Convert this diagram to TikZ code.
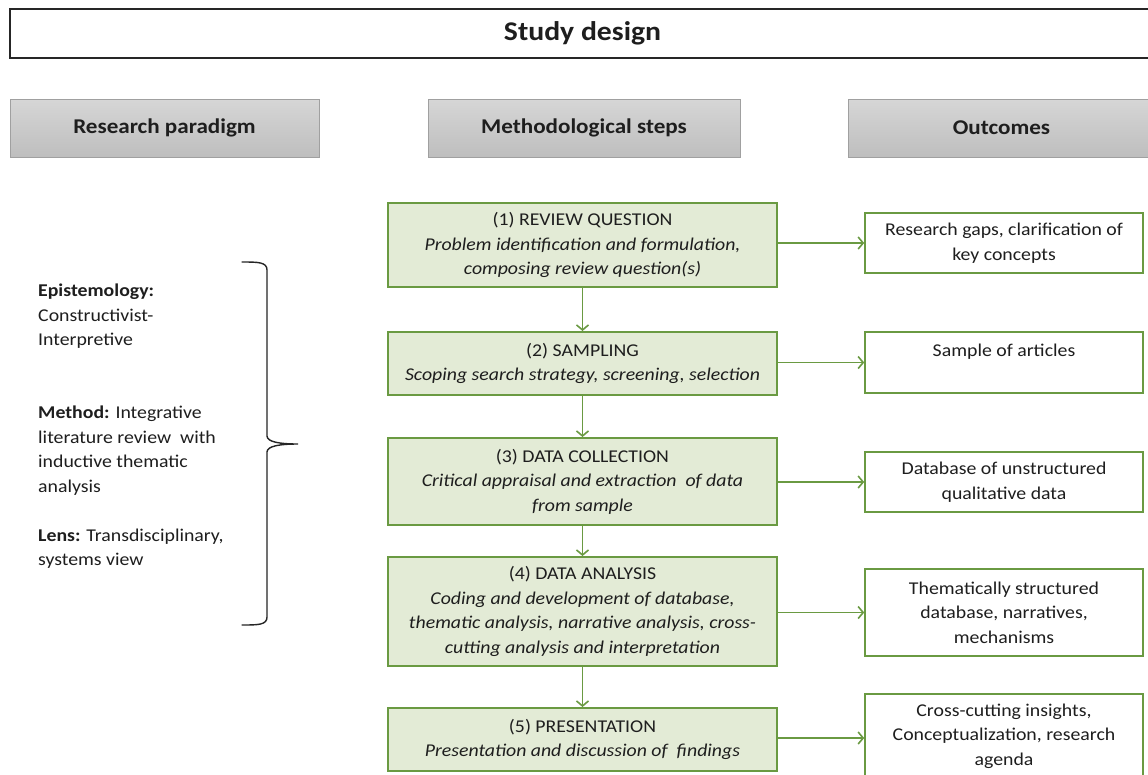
\documentclass[tikz,border=0pt]{standalone}
\usepackage{fontspec}
\setmainfont{Carlito}[FakeStretch=1.1]
\usetikzlibrary{arrows.meta}
\definecolor{gborder}{RGB}{106,154,66}
\definecolor{gfill}{RGB}{227,235,214}
\definecolor{htop}{RGB}{214,214,214}
\definecolor{hbot}{RGB}{190,190,190}
\definecolor{hline}{RGB}{160,160,160}
\definecolor{txt}{RGB}{30,30,30}
\tikzset{
  every node/.style={text=txt},
  bodyfont/.style={font=\fontsize{18}{24.5}\selectfont},
  titlebox/.style={draw=black!85, line width=1.5pt, fill=white, inner sep=0pt, font=\fontsize{27}{30}\selectfont\bfseries},
  headbox/.style={draw=hline, line width=0.8pt, top color=htop, bottom color=hbot, inner sep=0pt, minimum height=58pt, font=\fontsize{21}{24}\selectfont\bfseries},
  stepbox/.style={draw=gborder, line width=2pt, fill=gfill, inner sep=0pt, minimum width=389pt, align=center, bodyfont},
  outbox/.style={draw=gborder, line width=1.6pt, fill=white, inner sep=0pt, minimum width=278pt, align=center, bodyfont},
  flow/.style={draw=gborder, line width=1.6pt, -{Straight Barb[length=5pt,width=12pt,line width=1.6pt]}},
}
\begin{document}
\begin{tikzpicture}[x=1pt,y=-1pt]
\useasboundingbox (0,0) rectangle (1148,774);
\clip (0,0) rectangle (1148,774);
\fill[white] (0,0) rectangle (1148,774);

% title
\node[titlebox, minimum width=1145pt, minimum height=49pt] (title) at (582.5,33.5) {Study design};

% headers
\node[headbox, minimum width=309pt] (hrp) at (164.5,128) {Research paradigm};
\node[headbox, minimum width=312pt] (hms) at (584,128) {Methodological steps};
\node[headbox, minimum width=307pt] (hoc) at (1001.5,128) {Outcomes};

% steps
\node[stepbox, minimum height=84pt] (s1) at (582.5,245) {(1) REVIEW QUESTION\\ \textit{Problem identification and formulation,}\\ \textit{composing review question(s)}};
\node[stepbox, minimum height=63pt] (s2) at (582.5,363.5) {(2) SAMPLING\\ \textit{Scoping search strategy, screening, selection}};
\node[stepbox, minimum height=87pt] (s3) at (582.5,481.5) {(3) DATA COLLECTION\\ \textit{Critical appraisal and extraction\ \ of data}\\ \textit{from sample}};
\node[stepbox, minimum height=109pt] (s4) at (582.5,611.5) {(4) DATA ANALYSIS\\ \textit{Coding and development of database,}\\ \textit{thematic analysis, narrative analysis, cross-}\\ \textit{cutting analysis and interpretation}};
\node[stepbox, minimum height=63pt] (s5) at (582.5,739.5) {(5) PRESENTATION\\ \textit{Presentation and discussion of\ \ findings}};

% outcomes
\node[outbox, minimum height=60pt] (o1) at (1004,243) {Research gaps, clarification of\\ key concepts};
\node[outbox, minimum height=61pt] (o2) at (1004,362.5) {Sample of articles\\ \mbox{}};
\node[outbox, minimum height=60pt] (o3) at (1004,482) {Database of unstructured\\ qualitative data};
\node[outbox, minimum height=87pt] (o4) at (1004,612.5) {Thematically structured\\ database, narratives,\\ mechanisms};
\node[outbox, minimum height=84pt] (o5) at (1004,736) {Cross-cutting insights,\\ Conceptualization, research\\ agenda};

% vertical flow
\draw[flow] (s1.south) -- (s2.north);
\draw[flow] (s2.south) -- (s3.north);
\draw[flow] (s3.south) -- (s4.north);
\draw[flow] (s4.south) -- (s5.north);

% horizontal flow
\draw[flow] (s1.east |- o1.west) -- (o1.west);
\draw[flow] (s2.east |- o2.west) -- (o2.west);
\draw[flow] (s3.east |- o3.west) -- (o3.west);
\draw[flow] (s4.east |- o4.west) -- (o4.west);
\draw[flow] (s5.east |- 0,738) -- (o5.west |- 0,738);

% paradigm text
\node[bodyfont, anchor=north west, align=left, inner sep=0pt] (para) at (38,284) {%
\textbf{Epistemology:}\\ Constructivist-\\ Interpretive\\[48.5pt]
\textbf{Method:} Integrative\\ literature review\ \ with\\ inductive thematic\\ analysis\\[24.5pt]
\textbf{Lens:} Transdisciplinary,\\ systems view};

% brace
\draw[line width=1.4pt, black!85, line cap=round]
  (242,262) .. controls (258,262) and (267,262) .. (267,270)
  -- (267,436) .. controls (267,442) and (280,444) .. (298,444)
  .. controls (280,444) and (267,446) .. (267,452)
  -- (267,617) .. controls (267,625) and (258,625) .. (242,625);
\end{tikzpicture}
\end{document}
